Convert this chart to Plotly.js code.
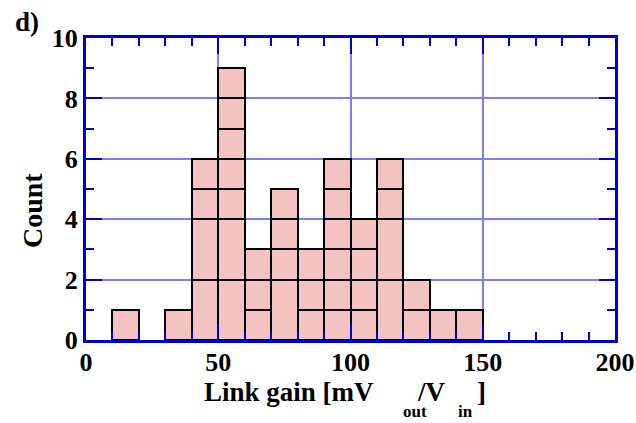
<!DOCTYPE html>
<html>
<head>
<meta charset="utf-8">
<script src="https://cdn.plot.ly/plotly-3.0.1.min.js"></script>
<style>html,body{margin:0;padding:0;background:#fff;}#chart{width:636px;height:423px;}</style>
</head>
<body>
<div id="chart"></div>
<script>
// Histogram bins (left edges, width 10) and stacked segment heights per layer
const binStarts = [10, 20, 30, 40, 50, 60, 70, 80, 90, 100, 110, 120, 130, 140];
const binWidth = 10;
const layer1 = [1, null, 1, 2, 2, 1, 2, 1, 1, 1, 2, 1, 1, 1];
const layer2 = [null, null, null, 2, 2, 1, 1, 1, 1, 1, 2, 1, null, null];
const layer3 = [null, null, null, 1, 1, 1, 1, 1, 1, 1, 1, null, null, null];
const layer4 = [null, null, null, 1, 1, null, 1, null, 1, 1, 1, null, null, null];
const layer5 = [null, null, null, null, 1, null, null, null, 1, null, null, null, null, null];
const layer6 = [null, null, null, null, 1, null, null, null, 1, null, null, null, null, null];
const layer7 = [null, null, null, null, 1, null, null, null, null, null, null, null, null, null];
const layers = [layer1, layer2, layer3, layer4, layer5, layer6, layer7];

const xTitleMain = 'Link gain [mV';
const xTitleSub1 = 'out';
const xTitleMid = '/V';
const xTitleSub2 = 'in';
const xTitleEnd = ']';
const yTitle = 'Count';
const panelLabel = 'd)';

const serif = 'Liberation Serif, Times New Roman, serif';
const axisBlue = '#0000cc';
const gridBlue = '#8080e6';
const fsz = 26;

const traces = layers.map(l => ({
  type: 'bar',
  x: binStarts,
  y: l,
  width: binWidth,
  offset: 0,
  marker: {color: '#f5c2c2', line: {color: '#000000', width: 2}},
  hoverinfo: 'skip',
  showlegend: false
}));

const tickFont = {family: serif, size: fsz, color: '#000', weight: 'bold'};

function ann(text, xpx, ypx, size, anchor, angle) {
  return {
    text: text, xref: 'paper', yref: 'paper',
    x: (xpx - 86) / 529, y: (340 - ypx) / 302,
    xanchor: anchor, yanchor: 'middle', showarrow: false,
    textangle: angle || 0, borderpad: 0,
    font: {family: serif, size: size, color: '#000', weight: 'bold'}
  };
}

const layout = {
  width: 636, height: 423,
  margin: {l: 86, r: 21, t: 38, b: 83},
  paper_bgcolor: '#fff', plot_bgcolor: '#fff',
  barmode: 'stack', bargap: 0,
  xaxis: {
    range: [0, 200], dtick: 50, tick0: 0,
    showline: true, linecolor: axisBlue, linewidth: 3, mirror: 'allticks',
    ticks: 'inside', ticklen: 16, tickwidth: 2, tickcolor: axisBlue,
    showgrid: true, gridcolor: gridBlue, gridwidth: 2,
    zeroline: false, tickfont: tickFont, ticklabelstandoff: -3,
    minor: {dtick: 10, ticks: 'inside', ticklen: 8, tickwidth: 2, tickcolor: axisBlue, showgrid: false}
  },
  yaxis: {
    range: [0, 10], dtick: 2, tick0: 0,
    showline: true, linecolor: axisBlue, linewidth: 3, mirror: 'allticks',
    ticks: 'inside', ticklen: 16, tickwidth: 2, tickcolor: axisBlue,
    showgrid: true, gridcolor: gridBlue, gridwidth: 2,
    zeroline: false, tickfont: tickFont,
    minor: {dtick: 1, ticks: 'inside', ticklen: 8, tickwidth: 2, tickcolor: axisBlue, showgrid: false}
  },
  annotations: [
    ann(panelLabel, 14, 22, 27, 'left'),
    ann(yTitle, 33, 211, 28, 'center', -90),
    ann(xTitleMain, 203, 392, 27, 'left'),
    ann(xTitleSub1, 402, 411, 17, 'left'),
    ann(xTitleMid, 416, 392, 27, 'left'),
    ann(xTitleSub2, 457, 411, 17, 'left'),
    ann(xTitleEnd, 476, 392, 27, 'left')
  ]
};

Plotly.newPlot('chart', traces, layout, {displayModeBar: false, staticPlot: true});
</script>
</body>
</html>
